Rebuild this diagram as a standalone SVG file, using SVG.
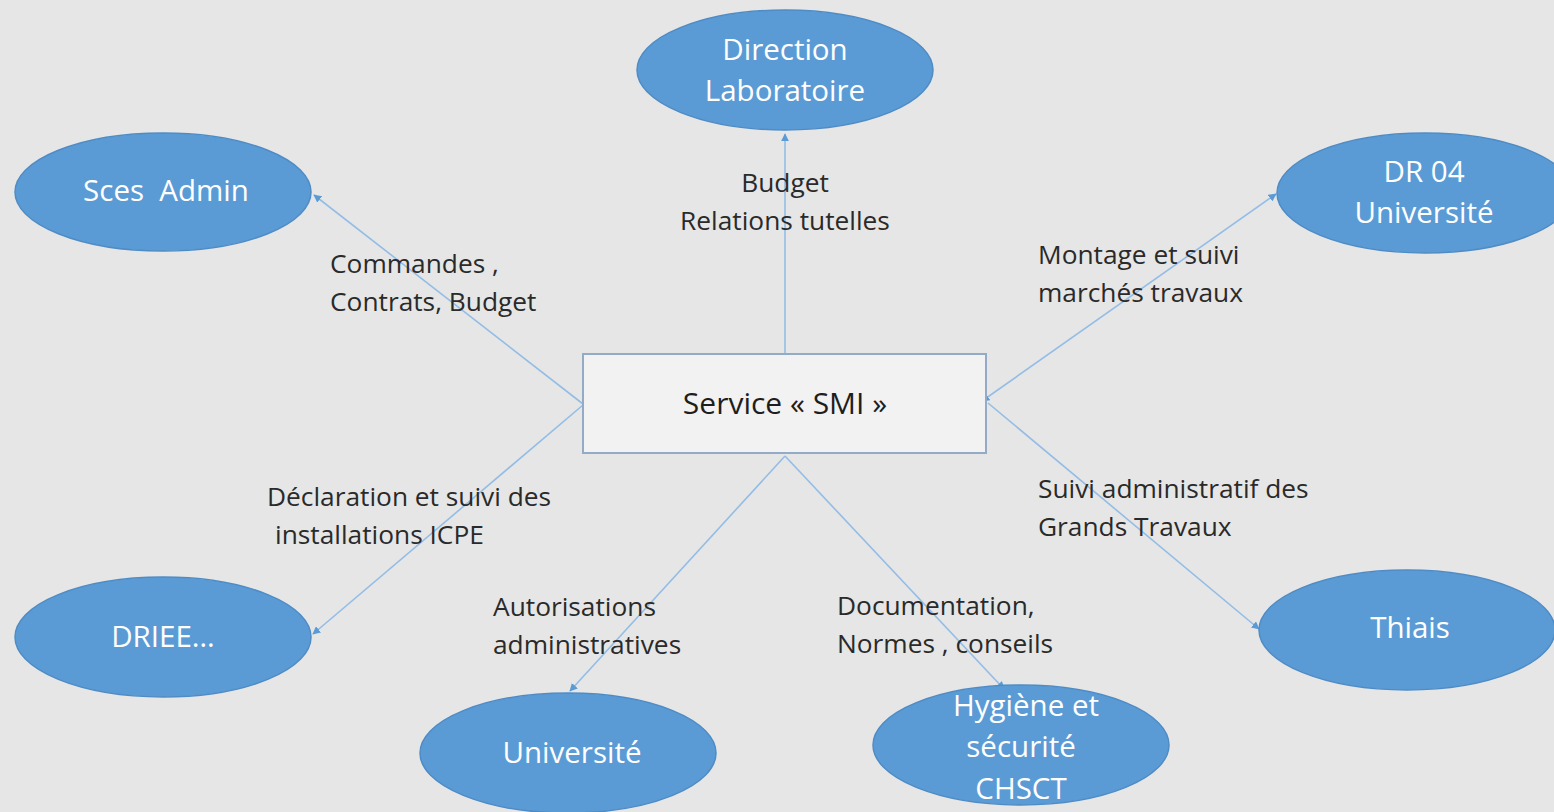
<svg xmlns="http://www.w3.org/2000/svg" width="1554" height="812" viewBox="0 0 1554 812">
<defs>
<marker id="ah" viewBox="0 0 10 10" refX="9" refY="5" markerWidth="5" markerHeight="5" orient="auto-start-reverse">
<path d="M0,0 L10,5 L0,10 z" fill="#5b9bd5"/>
</marker>
<style>
.node ellipse{fill:#5b9bd5;stroke:#4f8cc6;stroke-width:1.5}
.node text{font-family:"Open Sans",Lato,"Liberation Sans",sans-serif;font-size:29.5px;fill:#ffffff;text-anchor:middle}
.lbl{font-family:"Open Sans",Lato,"Liberation Sans",sans-serif;font-size:26.3px;fill:#2a2a2a}
.conn line{stroke:#93bde6;stroke-width:1.6;marker-end:url(#ah)}
</style>
</defs>
<rect x="0" y="0" width="1554" height="812" fill="#e6e6e6"/>
<g id="connectors" class="conn">
<line x1="785" y1="354" x2="785" y2="134"/>
<line x1="583" y1="404" x2="314" y2="195"/>
<line x1="982" y1="401" x2="1276" y2="194" marker-start="url(#ah)"/>
<line x1="988" y1="403" x2="1259" y2="629"/>
<line x1="583" y1="405" x2="313" y2="634"/>
<line x1="785" y1="456" x2="570" y2="691"/>
<line x1="785" y1="456" x2="1004" y2="689"/>
</g>
<g id="labels">
<text class="lbl" x="785" y="192" text-anchor="middle">Budget</text>
<text class="lbl" x="785" y="230" text-anchor="middle">Relations tutelles</text>
<text class="lbl" x="330" y="273">Commandes ,</text>
<text class="lbl" x="330" y="311">Contrats, Budget</text>
<text class="lbl" x="1038" y="264">Montage et suivi</text>
<text class="lbl" x="1038" y="302">marchés travaux</text>
<text class="lbl" x="267" y="506">Déclaration et suivi des</text>
<text class="lbl" x="275" y="544">installations ICPE</text>
<text class="lbl" x="493" y="616">Autorisations</text>
<text class="lbl" x="493" y="654">administratives</text>
<text class="lbl" x="837" y="615">Documentation,</text>
<text class="lbl" x="837" y="653">Normes , conseils</text>
<text class="lbl" x="1038" y="498">Suivi administratif des</text>
<text class="lbl" x="1038" y="536">Grands Travaux</text>
</g>
<g id="smi">
<rect x="583" y="354" width="403" height="99" fill="#f2f2f2" stroke="#93abc6" stroke-width="2"/>
<text x="785" y="414" text-anchor="middle" font-family="'Open Sans',Lato,'Liberation Sans',sans-serif" font-size="30" fill="#1e1e1e">Service « SMI »</text>
</g>
<g id="direction" class="node"><ellipse cx="785" cy="70" rx="148" ry="60"/><text x="785" y="60">Direction</text><text x="785" y="101">Laboratoire</text></g>
<g id="scesadmin" class="node"><ellipse cx="163" cy="192" rx="148" ry="59"/><text x="166" y="201" xml:space="preserve">Sces  Admin</text></g>
<g id="dr04" class="node"><ellipse cx="1425" cy="193" rx="148" ry="60"/><text x="1424" y="182">DR 04</text><text x="1424" y="223">Université</text></g>
<g id="driee" class="node"><ellipse cx="163" cy="637" rx="148" ry="60"/><text x="163" y="647">DRIEE…</text></g>
<g id="universite" class="node"><ellipse cx="568" cy="753" rx="148" ry="60"/><text x="572" y="763">Université</text></g>
<g id="hygiene" class="node"><ellipse cx="1021" cy="745" rx="148" ry="60"/><text x="1026" y="716">Hygiène et</text><text x="1021" y="757">sécurité</text><text x="1021" y="799">CHSCT</text></g>
<g id="thiais" class="node"><ellipse cx="1407" cy="630" rx="148" ry="60"/><text x="1410" y="638">Thiais</text></g>
</svg>
